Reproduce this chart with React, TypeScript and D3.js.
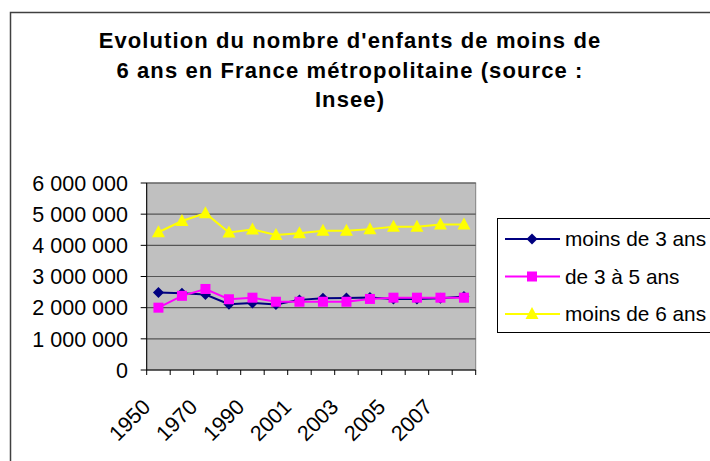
import React from "react"
import * as d3 from "d3"

// data
const years = ["1950", "1960", "1970", "1980", "1990", "2000", "2001", "2002", "2003", "2004", "2005", "2006", "2007", "2008"]
const shownYears = ["1950", "1970", "1990", "2001", "2003", "2005", "2007"]
const moins3 = [2490000, 2460000, 2420000, 2110000, 2150000, 2100000, 2250000, 2300000, 2310000, 2330000, 2280000, 2280000, 2300000, 2360000]
const de3a5 = [2000000, 2380000, 2600000, 2270000, 2320000, 2190000, 2190000, 2190000, 2190000, 2280000, 2320000, 2320000, 2320000, 2320000]
const moins6 = [4420000, 4780000, 5030000, 4410000, 4510000, 4330000, 4390000, 4470000, 4470000, 4520000, 4600000, 4600000, 4670000, 4670000]
const yTicks = [0, 1000000, 2000000, 3000000, 4000000, 5000000, 6000000]
const titleLines = ["Evolution du nombre d'enfants de moins de", "6 ans en France métropolitaine (source :", "Insee)"]

const series = [
  { name: "moins de 3 ans", values: moins3, color: "#000080", marker: "diamond" },
  { name: "de 3 à 5 ans", values: de3a5, color: "#FF00FF", marker: "square" },
  { name: "moins de 6 ans", values: moins6, color: "#FFFF00", marker: "triangle" },
]

const W = 710
const H = 461
const plot = { left: 146.7, right: 475.7, top: 183, bottom: 370 }
const font = "'Liberation Sans', Arial, sans-serif"
const fs = 21.5

const fmt = (v: number) => d3.format(",")(v).replace(/,/g, " ")

const Marker = ({ type, x, y, color }: { type: string; x: number; y: number; color: string }) => {
  if (type === "diamond") {
    return <path d={`M${x},${y - 5.5}L${x + 5.5},${y}L${x},${y + 5.5}L${x - 5.5},${y}Z`} fill={color} />
  }
  if (type === "square") {
    return <rect x={x - 5} y={y - 5} width={10} height={10} fill={color} />
  }
  return <path d={`M${x},${y - 7}L${x + 6.5},${y + 5}L${x - 6.5},${y + 5}Z`} fill={color} />
}

export default function App() {
  const x = d3.scaleBand().domain(years).range([plot.left, plot.right])
  const y = d3.scaleLinear().domain([0, 6000000]).range([plot.bottom, plot.top])
  const cx = (c: string) => (x(c) as number) + x.bandwidth() / 2

  const line = d3.line<number>()
    .x((d, i) => cx(years[i]))
    .y((d) => y(d))

  const bounds = years.map((c) => x(c) as number).concat([plot.right])

  return (
    <svg width={W} height={H} style={{ position: "absolute", left: 0, top: 0 }} fontFamily={font}>
      <rect x={0} y={0} width={W} height={H} fill="#ffffff" />
      {/* outer chart frame */}
      <rect x={10.5} y={12.5} width={W + 20} height={H + 20} fill="none" stroke="#404040" strokeWidth={1.5} />

      {/* title */}
      {titleLines.map((t, i) => (
        <text key={i} x={350} y={48 + i * 29.5} textAnchor="middle" fontSize={22} fontWeight="bold" letterSpacing={1.1} fill="#000">{t}</text>
      ))}

      {/* plot area */}
      <rect x={plot.left} y={plot.top} width={plot.right - plot.left} height={plot.bottom - plot.top} fill="#C0C0C0" stroke="#808080" strokeWidth={1} />
      {yTicks.filter((t) => t > 0).map((t) => (
        <line key={t} x1={plot.left} x2={plot.right} y1={y(t)} y2={y(t)} stroke="#555555" strokeWidth={1.2} />
      ))}

      {/* y axis */}
      <line x1={plot.left} x2={plot.left} y1={plot.top} y2={plot.bottom} stroke="#000" strokeWidth={1} />
      {yTicks.map((t) => (
        <g key={t}>
          <line x1={plot.left - 6} x2={plot.left} y1={y(t)} y2={y(t)} stroke="#000" />
          <text x={128} y={y(t)} dy="0.36em" textAnchor="end" fontSize={fs} fill="#000">{fmt(t)}</text>
        </g>
      ))}

      {/* x axis */}
      <line x1={plot.left} x2={plot.right} y1={plot.bottom} y2={plot.bottom} stroke="#000" />
      {bounds.map((b, i) => (
        <line key={i} x1={b} x2={b} y1={plot.bottom} y2={plot.bottom + 5} stroke="#000" />
      ))}
      {shownYears.map((c) => (
        <text key={c} transform={`translate(${cx(c) - 12},${plot.bottom + 33}) rotate(-45)`} dy="0.35em" textAnchor="end" fontSize={fs} fill="#000">{c}</text>
      ))}

      {/* series */}
      {series.map((s) => (
        <g key={s.name}>
          <path d={line(s.values) as string} fill="none" stroke={s.color} strokeWidth={2} />
          {s.values.map((v, i) => (
            <Marker key={i} type={s.marker} x={cx(years[i])} y={y(v)} color={s.color} />
          ))}
        </g>
      ))}

      {/* legend */}
      <rect x={497.5} y={218.5} width={W} height={114} fill="#fff" stroke="#000" strokeWidth={1} />
      {series.map((s, i) => {
        const ly = 239 + i * 37.5
        return (
          <g key={s.name}>
            <line x1={505} x2={560} y1={ly} y2={ly} stroke={s.color} strokeWidth={2} />
            <Marker type={s.marker} x={532} y={ly} color={s.color} />
            <text x={565} y={ly} dy="0.36em" fontSize={20.8} fill="#000">{s.name}</text>
          </g>
        )
      })}
    </svg>
  )
}
